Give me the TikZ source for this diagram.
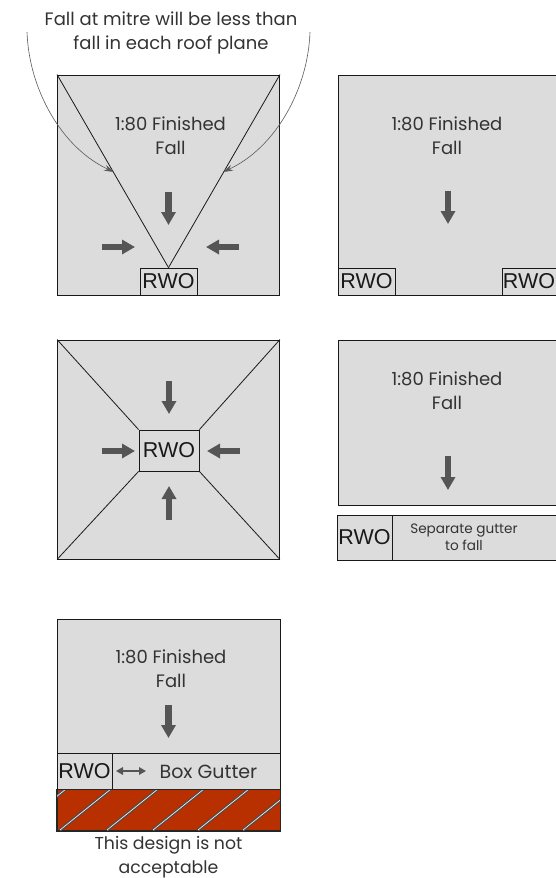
\documentclass[tikz,border=0pt]{standalone}
\usepackage{fontspec}
\setmainfont{Poppins}
\newfontfamily\rwofont{Liberation Sans}
\usetikzlibrary{arrows.meta}
\definecolor{roof}{HTML}{DCDCDC}
\definecolor{ink}{HTML}{333333}
\definecolor{arrowgrey}{HTML}{555555}
\definecolor{brick}{HTML}{B93000}
\tikzset{
  x=1pt,y=-1pt,
  panel/.style={draw=black!90,fill=roof,line width=0.9pt,inner sep=0pt},
  rwobox/.style={draw=black!90,fill=roof,line width=0.8pt,inner sep=0pt,font=\rwofont\fontsize{21.5}{21.5}\selectfont,text=black!90},
  label/.style={align=center,text=ink,font=\fontsize{18}{24}\selectfont,inner sep=0pt},
  small/.style={align=center,text=ink,font=\fontsize{13.6}{17}\selectfont,inner sep=0pt},
  mitre/.style={draw=black!90,line width=0.8pt},
  fallarrow/.style={draw=arrowgrey,line width=6.5pt,-{Triangle[width=14pt,length=13pt]}},
  callout/.style={draw=black!65,line width=0.6pt,-{Stealth[length=10pt,width=6pt]}}
}
\begin{document}
\begin{tikzpicture}
\useasboundingbox (0,0) rectangle (555,878);
% Panel A
\node[panel,minimum width=222pt,minimum height=220pt] (a) at (168.5,185) {};
\node[rwobox,minimum width=57pt,minimum height=27pt] (ar) at (168.5,281.5) {RWO};
\draw[mitre] (a.north west) -- (ar.north);
\draw[mitre] (a.north east) -- (ar.north);
\node[label] (at) at (170.5,136) {1:80 Finished\\Fall};
\node[label] (cap) at (171,33) {Fall at mitre will be less than\\fall in each roof plane};
\coordinate (a1) at (168.5,192); \coordinate (a2) at (168.5,225);
\coordinate (a3) at (102,247); \coordinate (a4) at (135,247);
\coordinate (a5) at (239,247); \coordinate (a6) at (206,247);
\draw[fallarrow] (a1) -- (a2);
\draw[fallarrow] (a3) -- (a4);
\draw[fallarrow] (a5) -- (a6);
\coordinate (c1) at (27,32); \coordinate (c1e) at (114,172);
\coordinate (c2) at (310,32); \coordinate (c2e) at (223,172);
\draw[callout] (c1) .. controls (29,90) and (62,148) .. (c1e);
\draw[callout] (c2) .. controls (308,90) and (275,148) .. (c2e);
% Panel B
\node[panel,minimum width=218pt,minimum height=220pt] (b) at (447,185) {};
\node[rwobox,minimum width=57pt,minimum height=27pt] (br1) at (366.5,281.5) {RWO};
\node[rwobox,minimum width=54pt,minimum height=27pt] (br2) at (529,281.5) {RWO};
\node[label] (bt) at (447,136) {1:80 Finished\\Fall};
\coordinate (b1) at (448,191); \coordinate (b2) at (448,224);
\draw[fallarrow] (b1) -- (b2);
% Panel C
\node[panel,minimum width=222pt,minimum height=219pt] (c) at (168.5,449.5) {};
\node[rwobox,minimum width=60pt,minimum height=41pt] (cr) at (169,450.5) {RWO};
\draw[mitre] (c.north west) -- (cr.north west);
\draw[mitre] (c.north east) -- (cr.north east);
\draw[mitre] (c.south west) -- (cr.south west);
\draw[mitre] (c.south east) -- (cr.south east);
\coordinate (k1) at (169,381); \coordinate (k2) at (169,414);
\coordinate (k3) at (102,451); \coordinate (k4) at (135,451);
\coordinate (k5) at (240,451); \coordinate (k6) at (207,451);
\coordinate (k7) at (169,520); \coordinate (k8) at (169,486);
\draw[fallarrow] (k1) -- (k2);
\draw[fallarrow] (k3) -- (k4);
\draw[fallarrow] (k5) -- (k6);
\draw[fallarrow] (k7) -- (k8);
% Panel D
\node[panel,minimum width=218pt,minimum height=165pt] (d) at (447,422.5) {};
\node[label] (dt) at (447,391) {1:80 Finished\\Fall};
\coordinate (d1) at (448,456); \coordinate (d2) at (448,490);
\draw[fallarrow] (d1) -- (d2);
\node[panel,minimum width=218pt,minimum height=45pt] (dg) at (447,537.5) {};
\node[rwobox,minimum width=55pt,minimum height=45pt] (dr) at (364.5,537.5) {RWO};
\node[small] (ds) at (464,537.5) {Separate gutter\\to fall};
% Panel E
\node[panel,minimum width=223pt,minimum height=134pt] (e) at (168.5,686) {};
\node[label] (et) at (171,669) {1:80 Finished\\Fall};
\coordinate (e1) at (168.5,705); \coordinate (e2) at (168.5,738);
\draw[fallarrow] (e1) -- (e2);
\node[panel,minimum width=223pt,minimum height=36pt] (eg) at (168.5,771) {};
\node[rwobox,minimum width=55pt,minimum height=36pt] (er) at (84.5,771) {RWO};
\coordinate (g1) at (116,771); \coordinate (g2) at (146,771);
\draw[draw=arrowgrey,line width=2.4pt,{Triangle[width=7.5pt,length=7pt]}-{Triangle[width=7.5pt,length=7pt]}] (g1) -- (g2);
\node[font=\fontsize{19}{22}\selectfont,text=ink,inner sep=0pt] (eb) at (208.5,772) {Box Gutter};
\node[draw=black!85,fill=brick,line width=1pt,minimum width=223pt,minimum height=41pt,inner sep=0pt] (h) at (168.5,810) {};
\begin{scope}
\clip (h.south west) rectangle (h.north east);
\foreach \xa in {15,60,107,153,198,243}{
  \draw[draw=black!70,double=white!90!brick,line width=1.2pt,double distance=0.7pt] (\xa,830) -- ++(51,-41);
}
\end{scope}
\draw[draw=black!85,line width=1pt] (h.south west) rectangle (h.north east);
\node[label,font=\fontsize{17.3}{24}\selectfont] (en) at (168.5,857) {This design is not\\acceptable};
\end{tikzpicture}
\end{document}
